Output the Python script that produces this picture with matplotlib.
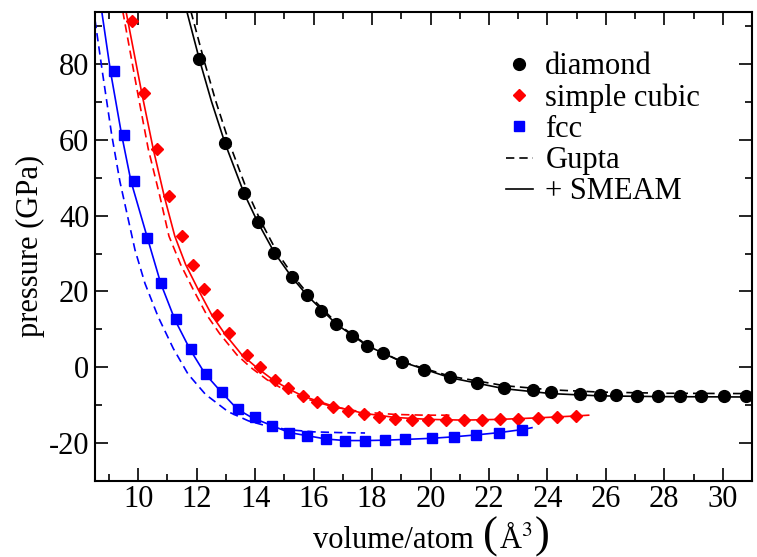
import matplotlib
matplotlib.use("Agg")
import matplotlib.pyplot as plt
from matplotlib.lines import Line2D
from matplotlib.offsetbox import TextArea, HPacker, AnchoredOffsetbox

plt.rcParams['font.family'] = ['Liberation Serif', 'DejaVu Serif']
plt.rcParams['mathtext.fontset'] = 'stix'
plt.rcParams['axes.unicode_minus'] = False

# DFT points
diamond_v = [12.09, 12.97, 13.62, 14.08, 14.66, 15.25, 15.77, 16.26, 16.77, 17.31,
             17.82, 18.39, 19.02, 19.78, 20.67, 21.59, 22.52, 23.49, 24.13, 25.13,
             25.81, 26.36, 27.07, 27.79, 28.53, 29.26, 30.03, 30.81]
diamond_p = [81.3, 59.1, 45.9, 38.4, 30.2, 23.8, 19.0, 14.9, 11.4, 8.3,
             5.7, 3.6, 1.4, -0.8, -2.7, -4.1, -5.5, -6.1, -6.5, -7.1,
             -7.4, -7.4, -7.6, -7.6, -7.6, -7.6, -7.6, -7.6]

sc_v = [9.77, 10.21, 10.63, 11.05, 11.49, 11.86, 12.25, 12.71, 13.11, 13.73,
        14.17, 14.68, 15.14, 15.65, 16.13, 16.66, 17.16, 17.71, 18.24, 18.79,
        19.36, 19.93, 20.53, 21.13, 21.76, 22.39, 23.01, 23.68, 24.33, 24.99]
sc_p = [91.3, 72.4, 57.7, 45.1, 34.6, 27.1, 20.5, 13.7, 8.9, 3.2,
        -0.1, -3.3, -5.6, -7.7, -9.2, -10.5, -11.6, -12.5, -13.3, -13.7,
        -14.0, -14.0, -14.0, -14.0, -14.0, -13.7, -13.6, -13.4, -13.1, -13.0]

fcc_v = [9.17, 9.52, 9.85, 10.31, 10.78, 11.28, 11.79, 12.31, 12.86, 13.40,
         14.00, 14.59, 15.17, 15.77, 16.43, 17.08, 17.76, 18.45, 19.13, 20.05,
         20.81, 21.57, 22.35, 23.13]
fcc_p = [78.1, 61.4, 49.1, 34.2, 22.1, 12.6, 4.7, -1.8, -6.6, -11.1,
         -13.3, -15.5, -17.3, -18.1, -19.0, -19.4, -19.4, -19.3, -19.0, -18.8,
         -18.4, -17.9, -17.3, -16.6]

# fitted curves (solid: Gupta + SMEAM, dashed: Gupta)
dia_smeam_v = [11.66, 12.09, 12.50, 12.97, 13.62, 14.08, 14.66, 15.25, 15.77, 16.77,
               17.82, 19.02, 20.67, 22.52, 24.13, 25.81, 28.00, 31.00]
dia_smeam_p = [94.0, 81.3, 70.3, 59.1, 45.9, 38.4, 30.2, 23.8, 19.0, 11.4,
               5.7, 1.4, -2.8, -5.7, -7.0, -7.6, -7.8, -7.9]
dia_gupta_v = [11.80, 12.24, 12.65, 13.12, 13.76, 14.20, 14.76, 15.33, 15.84, 16.82,
               17.85, 19.03, 20.67, 22.52, 24.13, 25.81, 28.00, 31.00]
dia_gupta_p = [94.0, 81.3, 70.3, 59.1, 45.9, 38.4, 30.2, 23.8, 19.0, 11.4,
               5.7, 1.4, -2.4, -4.9, -6.0, -6.6, -6.9, -7.0]

sc_smeam_v = [9.58, 10.12, 10.51, 10.89, 11.25, 11.62, 12.05, 12.52, 12.95, 13.55,
              14.05, 14.60, 15.10, 15.65, 16.66, 17.71, 18.79, 19.93, 21.13, 22.39,
              23.68, 24.99, 25.41]
sc_smeam_p = [94.0, 72.4, 57.7, 45.1, 34.6, 27.1, 20.5, 13.7, 8.9, 3.2,
              -0.1, -3.3, -5.6, -7.7, -10.3, -12.2, -13.3, -13.8, -14.0, -13.8,
              -13.4, -12.9, -12.7]
sc_gupta_v = [9.47, 9.98, 10.34, 10.74, 11.05, 11.45, 11.88, 12.35, 12.78, 13.38,
              13.85, 14.40, 14.95, 15.60, 16.66, 17.71, 18.79, 19.80, 20.67]
sc_gupta_p = [94.0, 72.4, 57.7, 45.1, 34.6, 27.1, 20.5, 13.7, 8.9, 3.2,
              -0.1, -3.3, -5.8, -8.0, -10.5, -11.9, -12.5, -12.7, -12.7]

fcc_smeam_v = [8.75, 9.05, 9.43, 9.75, 10.31, 10.77, 11.26, 11.77, 12.28, 12.83,
               13.39, 13.88, 14.59, 15.17, 15.77, 16.43, 17.08, 17.76, 18.45, 19.13,
               20.05, 20.81, 21.57, 22.35, 23.13, 23.47]
fcc_smeam_p = [94.0, 78.1, 61.4, 49.1, 34.2, 22.1, 12.4, 4.7, -1.7, -6.5,
               -11.1, -13.3, -15.5, -17.3, -18.1, -19.0, -19.4, -19.4, -19.3, -19.1,
               -18.8, -18.4, -17.9, -17.3, -16.5, -16.0]
fcc_gupta_v = [8.52, 8.77, 9.09, 9.37, 9.89, 10.23, 10.68, 11.20, 11.70, 12.30,
               13.08, 13.77, 14.28, 15.08, 16.00, 16.90, 17.76]
fcc_gupta_p = [91.7, 78.1, 61.4, 49.1, 30.9, 22.1, 13.3, 4.9, -1.8, -7.2,
               -11.8, -14.2, -15.3, -16.5, -17.1, -17.3, -17.4]

fig = plt.figure(figsize=(7.57, 5.57), dpi=100)
ax = fig.add_axes([0.1255, 0.137, 0.8679, 0.8415])

lw = 1.2
dash = (5, 3)
ax.plot(dia_smeam_v, dia_smeam_p, color='black', lw=lw)
ax.plot(dia_gupta_v, dia_gupta_p, color='black', lw=lw, dashes=dash)
ax.plot(sc_smeam_v, sc_smeam_p, color='red', lw=lw)
ax.plot(sc_gupta_v, sc_gupta_p, color='red', lw=lw, dashes=dash)
ax.plot(fcc_smeam_v, fcc_smeam_p, color='blue', lw=lw)
ax.plot(fcc_gupta_v, fcc_gupta_p, color='blue', lw=lw, dashes=dash)

ax.plot(diamond_v, diamond_p, 'o', color='black', ms=8.5, ls='none')
ax.plot(sc_v, sc_p, 'D', color='red', ms=6, ls='none')
ax.plot(fcc_v, fcc_p, 's', color='blue', ms=7, ls='none')

ax.set_xlim(8.52, 31.0)
ax.set_ylim(-30, 93.8)
ax.set_xticks(range(10, 31, 2))
ax.set_xticks(range(9, 32, 1), minor=True)
ax.set_yticks([-20, 0, 20, 40, 60, 80])
ax.set_yticks(range(-30, 94, 10), minor=True)
ax.tick_params(which='both', direction='in', top=True, right=True, width=1.2, labelsize=22)
ax.tick_params(which='major', length=9.5)
ax.tick_params(which='minor', length=5)
ax.tick_params(axis='x', pad=3)
ax.tick_params(axis='y', pad=4)
for sp in ax.spines.values():
    sp.set_linewidth(1.5)

ax.set_ylabel('pressure (GPa)', fontsize=22, labelpad=3)

# x label with tall parentheses around the unit
parts = [
    TextArea('volume/atom ', textprops=dict(fontsize=22)),
    TextArea('(', textprops=dict(fontsize=32)),
    TextArea(r'Å$^{3}$', textprops=dict(fontsize=22)),
    TextArea(')', textprops=dict(fontsize=32)),
]
xlab = AnchoredOffsetbox(loc='lower center', child=HPacker(children=parts, align='baseline', pad=0, sep=1),
                         bbox_to_anchor=(0.57, 0.0), bbox_transform=fig.transFigure,
                         frameon=False, pad=0, borderpad=0)
fig.add_artist(xlab)

handles = [
    Line2D([], [], marker='o', color='black', ms=8.5, ls='none'),
    Line2D([], [], marker='D', color='red', ms=6, ls='none'),
    Line2D([], [], marker='s', color='blue', ms=7, ls='none'),
    Line2D([], [], color='black', lw=lw, dashes=dash),
    Line2D([], [], color='black', lw=lw),
]
labels = ['diamond', 'simple cubic', 'fcc', 'Gupta', '+ SMEAM']
ax.legend(handles, labels, loc='upper left', bbox_to_anchor=(0.625, 0.914),
          frameon=False, fontsize=22, handlelength=0.88, handletextpad=0.42,
          labelspacing=0.07, borderpad=0, borderaxespad=0)

fig.savefig('out.png', dpi=100)
